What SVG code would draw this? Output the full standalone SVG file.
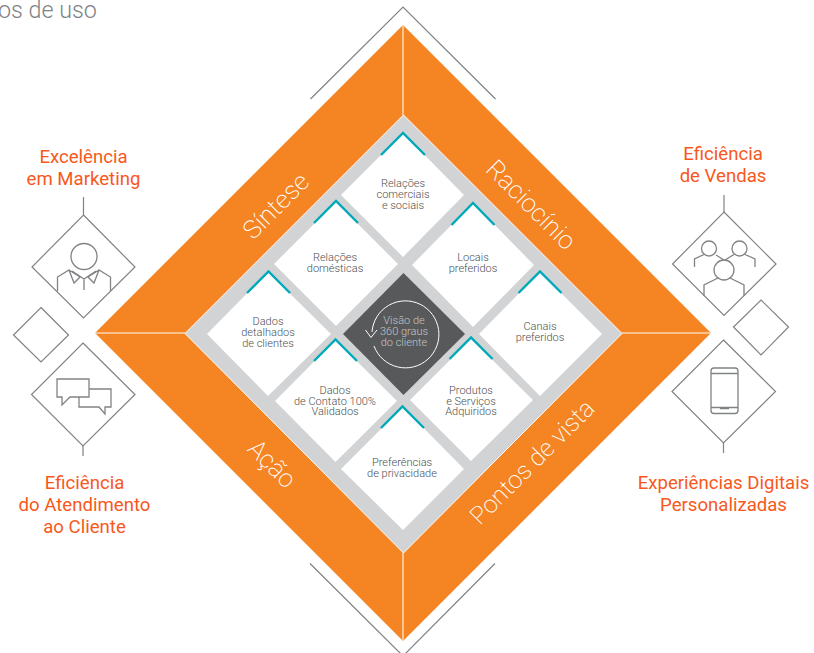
<svg xmlns="http://www.w3.org/2000/svg" width="814" height="653" viewBox="0 0 814 653">
<style>
text{font-family:Roboto,"Liberation Sans",sans-serif}
.c{fill:#fff}
.l{font-size:11px;font-weight:300;fill:#4d4f51;text-anchor:middle}
.o{font-size:18.600px;font-weight:400;fill:#f8581c;text-anchor:middle}
.b{font-size:25.500px;font-weight:200;fill:#fff;text-anchor:middle}
.ln{fill:none;stroke:#808285;stroke-width:1.200}
.ic{fill:none;stroke:#808285;stroke-width:1.300}
.t{fill:none;stroke:#00a9b9;stroke-width:2.400}
</style>
<rect width="814" height="653" fill="#fff"/>
<text x="-2" y="17.500" font-size="23.300" font-weight="300" fill="#808285">os de uso</text>
<g id="frame">
<path d="M403 25L711 333L403 641L95 333Z" fill="#f58423"/>
<path d="M403 25V115M403 553V641" stroke="#fbd5b0" stroke-width="1.600"/>
<path d="M95 333H185M622 333H711" stroke="#fff" stroke-width="1"/>
<path d="M403.500 115L622 333.500L403.500 553L185 333.500Z" fill="#d1d3d4" stroke="#fff" stroke-width="1"/>
<text class="b" transform="translate(282 212) rotate(-45)">Síntese</text>
<text class="b" transform="translate(525 211) rotate(45)">Raciocínio</text>
<text class="b" transform="translate(266 470) rotate(45)">Ação</text>
<text class="b" style="font-size:24.700px" transform="translate(538 468) rotate(-45)">Pontos de vista</text>
</g>
<g id="connectors">
<path class="ln" d="M310.500 99L403 7L495.500 99M310 563.500L403 656L495 563.500"/>
<path class="ln" d="M83.500 197V215M83 446V456M724 195V212M723.500 443V453"/>
</g>
<g id="node-comerciais"><path class="c" d="M403 133L464 195L403 257L341 195Z"/><path class="t" d="M381 155L403 133L425 155"/><text class="l"><tspan x="403" y="187">Relações</tspan><tspan x="403" y="198">comerciais</tspan><tspan x="403" y="209">e sociais</tspan></text></g>
<g id="node-domesticas"><path class="c" d="M336 202L398 264L336 326L274 264Z"/><path class="t" d="M314 223L336 201L358 223"/><text class="l"><tspan x="335" y="261">Relações</tspan><tspan x="335" y="272">domésticas</tspan></text></g>
<g id="node-locais"><path class="c" d="M473 203L534 265L473 327L412 265Z"/><path class="t" d="M451.500 225L473 203L494.500 225"/><text class="l"><tspan x="473" y="261">Locais</tspan><tspan x="473" y="272">preferidos</tspan></text></g>
<g id="node-detalhados"><path class="c" d="M268 272L331 334L268 396L207 334Z"/><path class="t" d="M247 293L268.500 271.500L290 293"/><text class="l"><tspan x="268" y="325">Dados</tspan><tspan x="268" y="336">detalhados</tspan><tspan x="268" y="347">de clientes</tspan></text></g>
<g id="node-centro"><path d="M403.500 273L465 334L403.500 395L343 334Z" fill="#58595b"/><path d="M372 332A33.500 33.500 0 1 1 374 346" fill="none" stroke="#fff" stroke-width="1"/><path d="M365.500 330L371 337.500L377 330" fill="none" stroke="#fff" stroke-width="1"/><text class="l" style="fill:#c4c6c8"><tspan x="404" y="324">Visão de</tspan><tspan x="404" y="335">360 graus</tspan><tspan x="404" y="346">do cliente</tspan></text></g>
<g id="node-canais"><path class="c" d="M540 272L602 334L540 396L479 334Z"/><path class="t" d="M518.500 293L540 271.500L561.500 293"/><text class="l"><tspan x="540" y="330">Canais</tspan><tspan x="540" y="341">preferidos</tspan></text></g>
<g id="node-contato"><path class="c" d="M335.500 340L397 401L335.500 462L275 401Z"/><path class="t" d="M314 361L335.500 339.500L357 361"/><text class="l"><tspan x="335" y="394">Dados</tspan><tspan x="335" y="405">de Contato 100%</tspan><tspan x="335" y="415">Validados</tspan></text></g>
<g id="node-produtos"><path class="c" d="M471 339L533 400L471 461L410 400Z"/><path class="t" d="M449.500 359L471 337.500L492.500 359"/><text class="l"><tspan x="471" y="394">Produtos</tspan><tspan x="471" y="405">e Serviços</tspan><tspan x="471" y="415">Adquiridos</tspan></text></g>
<g id="node-privacidade"><path class="c" d="M403 407L464 469L403 530L341 469Z"/><path class="t" d="M381 428L402.500 406.500L424 428"/><text class="l"><tspan x="402" y="466">Preferências</tspan><tspan x="402" y="477">de privacidade</tspan></text></g>
<g id="node-marketing"><path class="ln" d="M83.500 215L135 267L83.500 318L32 267Z"/><circle class="ic" cx="84" cy="256.500" r="13"/><path class="ic" d="M57.500 291V277L69 270L74 283L80 277L69 270M110.500 291V277L99 270L94 283L88 277L99 270M72 271L84 279L96 271M84 279V290"/><text class="o"><tspan x="83.500" y="163">Excelência</tspan><tspan x="83.500" y="185">em Marketing</tspan></text></g>
<g id="node-left-small"><path class="ln" d="M41 307.500L68.500 335L41 362L13.500 335Z"/></g>
<g id="node-atendimento"><path class="ln" d="M83 343L135 394.500L83 446L31.500 394.500Z"/><path class="ic" d="M57 379H89V397H70L62 405V397H57ZM89 389H111V407H105V414L99 407H79V397"/><text class="o"><tspan x="84.500" y="489">Eficiência</tspan><tspan x="84.500" y="511">do Atendimento</tspan><tspan x="84.500" y="533">ao Cliente</tspan></text></g>
<g id="node-vendas"><path class="ln" d="M724 212L776 264L724 315.500L672.500 264Z"/><circle class="ic" cx="709" cy="248.500" r="7.500"/><circle class="ic" cx="739.500" cy="248.500" r="7.500"/><circle class="ic" cx="724" cy="270" r="10"/><path class="ic" d="M694.500 267V259L704 254.500M716 255L724 260M725 260L734 254.500M745 254.500L755 259V267M704 296V285L718 278M730 278L744 285V296"/><text class="o"><tspan x="723" y="160">Eficiência</tspan><tspan x="723" y="182">de Vendas</tspan></text></g>
<g id="node-right-small"><path class="ln" d="M761 300L788.500 327L761 355L733.500 327Z"/></g>
<g id="node-experiencias"><path class="ln" d="M723.500 340L775.500 391.500L723.500 443L672 391.500Z"/><rect class="ic" x="711" y="368" width="27" height="45.500" rx="3"/><path class="ic" d="M711 373.500H738M711 407.500H738M720 408.500H729"/><text class="o"><tspan x="723.500" y="489">Experiências Digitais</tspan><tspan x="723.500" y="511">Personalizadas</tspan></text></g>
</svg>
